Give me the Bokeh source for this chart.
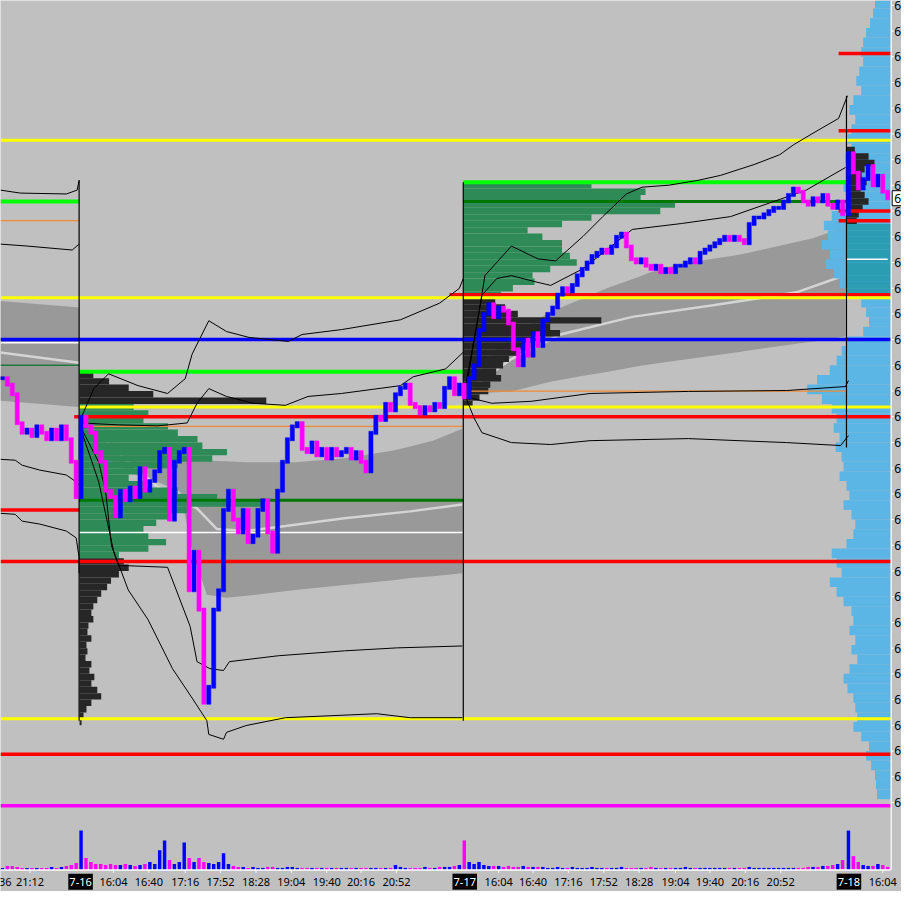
import numpy as np
from bokeh.plotting import figure
from bokeh.models import Range1d
from bokeh.embed import file_html
from bokeh.resources import INLINE
from bokeh.core.properties import value

# ---------------- data ----------------
BAR_STEP = 5  # minutes per plotted bar
session_first_bar = {"7-15": 2, "7-16": 82, "7-17": 472, "7-18": 863}

close_715 = [6301.0, 6300.5, 6299.75, 6297.5, 6296.75, 6297.0, 6296.5, 6297.25, 6296.75, 6296.25,
             6297.0, 6296.25, 6297.25, 6296.25, 6294.5, 6291.75]
close_716 = [6298.0, 6297.25, 6296.75, 6295.25, 6294.5, 6292.25, 6291.75, 6290.25, 6292.25, 6291.5,
             6292.5, 6291.75, 6294.0, 6292.25, 6293.0, 6293.75, 6295.25, 6295.5, 6290.0, 6294.5,
             6295.25, 6295.5, 6284.5, 6287.5, 6283.0, 6275.75, 6277.0, 6283.0, 6284.5, 6290.75,
             6292.25, 6290.0, 6289.0, 6290.75, 6288.25, 6288.75, 6290.75, 6291.5, 6289.0, 6287.5,
             6292.25, 6294.5, 6296.25, 6297.25, 6297.5, 6295.5, 6295.25, 6296.0, 6295.0, 6295.5,
             6294.75, 6295.5, 6295.0, 6295.25, 6295.5, 6294.75, 6295.25, 6294.5, 6293.75, 6296.75,
             6298.0, 6297.75, 6299.0, 6298.5, 6299.75, 6300.25, 6300.5, 6299.0, 6298.75, 6298.25,
             6298.75, 6298.5, 6299.0, 6298.75, 6300.25, 6301.0, 6299.75, 6300.5]
close_717 = [6299.5, 6301.0, 6302.0, 6304.75, 6306.0, 6306.75, 6305.75, 6306.5, 6306.25, 6305.25,
             6303.25, 6302.0, 6304.0, 6302.75, 6304.5, 6303.5, 6305.5, 6306.0, 6306.5, 6307.5,
             6308.0, 6307.75, 6308.25, 6309.0, 6309.5, 6310.0, 6310.5, 6310.75, 6311.0, 6310.75,
             6311.25, 6312.0, 6312.25, 6311.25, 6310.25, 6310.0, 6310.25, 6309.75, 6309.5, 6309.75,
             6309.25, 6309.5, 6309.25, 6309.75, 6309.75, 6310.0, 6310.25, 6310.0, 6310.75, 6311.0,
             6311.25, 6311.5, 6311.75, 6312.0, 6311.75, 6312.0, 6311.75, 6311.5, 6313.0, 6313.5,
             6313.5, 6313.75, 6314.0, 6314.25, 6314.25, 6314.75, 6315.25, 6315.75, 6315.5, 6314.75,
             6314.5, 6315.0, 6314.75, 6315.25, 6314.5, 6314.25, 6314.75, 6313.75]
close_718 = [6318.5, 6317.0, 6315.75, 6316.5, 6317.5, 6316.0, 6316.75, 6315.5, 6315.0]

# volume, thousand contracts per plotted bar
vol_715 = [2, 4, 4, 3, 2, 2, 2, 2, 2, 2, 3, 2, 3, 4, 5, 7]
vol_716 = [40, 12, 8, 6, 6, 5, 6, 5, 5, 6, 5, 4, 5, 6, 8, 6, 20, 30, 10, 6,
           8, 28, 12, 8, 12, 8, 7, 6, 8, 17, 6, 4, 3, 3, 2, 3, 2, 2, 3, 3,
           2, 2, 3, 3, 2, 2, 2, 2, 2, 2, 2, 2, 2, 2, 2, 2, 2, 2, 2, 2,
           2, 2, 2, 2, 5, 3, 2, 2, 2, 2, 3, 2, 2, 3, 3, 3, 4, 5]
vol_717 = [30, 8, 6, 8, 5, 4, 4, 4, 3, 4, 3, 3, 4, 3, 3, 3, 3, 2, 2, 3,
           2, 2, 3, 2, 2, 2, 3, 2, 2, 2, 2, 2, 3, 2, 2, 2, 2, 2, 3, 2,
           2, 2, 2, 2, 2, 3, 2, 2, 2, 2, 2, 2, 2, 2, 2, 2, 2, 2, 3, 2,
           2, 2, 2, 2, 2, 2, 2, 2, 2, 2, 3, 3, 3, 4, 4, 5, 6, 10]
vol_718 = [40, 14, 8, 5, 4, 4, 6, 5, 3]

# session volume profiles (0.5 pt bins from top price downward)
PROF_BIN = 0.5
prof716_top, prof716 = 6301.5, [14, 30, 50, 75, 190, 55, 70, 65, 90, 100, 120, 125, 150, 135, 100, 65, 50, 65, 100, 140,
                                185, 110, 90, 78, 65, 70, 88, 70, 40, 45, 50, 40, 32, 28, 22, 18, 14, 12, 14, 9,
                                8, 12, 7, 8, 6, 12, 10, 15, 12, 18, 22, 12, 7, 4, 2]
va716 = (6287.0, 6298.75)
prof717_top, prof717 = 6316.25, [130, 185, 180, 215, 200, 130, 100, 65, 80, 100, 100, 108, 115, 88, 70, 72, 50, 38, 32, 42,
                                 55, 140, 88, 98, 72, 62, 55, 46, 40, 33, 38, 27, 25, 16, 9]
va717 = (6307.25, 6316.25)
prof718_top, prof718 = 6319.0, [8, 22, 28, 18, 15, 20, 14, 18, 22, 16, 12, 10,
                                45, 45, 45, 45, 45, 45, 45, 45, 45, 45, 45]
va718 = (6307.5, 6313.0)

# composite profile (0.75 pt bins from top)
COMP_BIN = 0.75
comp_top, comp = 6330.5, [16, 18, 21, 25, 28, 30, 28, 32, 35, 30, 38, 42, 36, 40, 44, 40, 46, 42, 45, 48,
                          44, 50, 60, 68, 64, 70, 62, 66, 58, 52, 40, 30, 25, 22, 28, 45, 50, 55, 62, 75,
                          85, 70, 60, 55, 58, 52, 56, 50, 48, 52, 45, 42, 48, 40, 36, 38, 45, 60, 55, 50,
                          62, 55, 48, 40, 38, 42, 36, 40, 34, 42, 48, 44, 38, 36, 34, 38, 30, 22, 25, 20,
                          16, 15, 14]

# VWAP bands
band715_x, band715_hi, band715_lo = [0, 80], [6307.0, 6306.5], [6299.25, 6298.75]
vwap715_x, vwap715 = [0, 80], [6303.0, 6302.2]
band716_x = [82, 100, 130, 160, 183, 195, 210, 230, 250, 283, 300, 350, 400, 417, 440, 470]
band716_hi = [6297.37, 6296.37, 6295.61, 6295.07, 6294.77, 6294.69, 6294.58, 6294.54, 6294.46, 6294.46,
              6294.46, 6294.77, 6295.38, 6295.69, 6296.14, 6297.06]
band716_lo = [6297.21, 6295.23, 6293.70, 6292.93, 6292.17, 6287.59, 6284.15, 6283.92, 6284.07, 6284.37,
              6284.53, 6284.91, 6285.29, 6285.45, 6285.60, 6285.83]
vwap716_x = [82, 100, 127, 160, 200, 220, 250, 290, 350, 417, 470]
vwap716 = [6297.29, 6296.76, 6294.69, 6292.55, 6290.87, 6289.27, 6289.11, 6289.50, 6290.11, 6290.64, 6291.18]
band717_x = [472, 500, 520, 530, 560, 593, 617, 650, 660, 693, 750, 760, 827, 860]
band717_hi = [6299.97, 6302.87, 6304.17, 6304.78, 6306.16, 6307.22, 6307.99, 6308.90, 6309.21, 6309.90,
              6310.59, 6310.74, 6311.89, 6312.80]
band717_lo = [6299.81, 6299.89, 6299.97, 6300.16, 6300.73, 6301.19, 6301.49, 6301.95, 6302.06, 6302.41,
              6303.02, 6303.14, 6303.86, 6304.25]
vwap717_x = [472, 520, 570, 643, 727, 810, 853, 860]
vwap717 = [6299.89, 6302.49, 6304.40, 6305.77, 6306.69, 6307.68, 6308.83, 6309.36]

# deviation curves (bar, price)
curves = [
    ([0, 20, 67, 78, 80], [6315.63, 6315.40, 6315.33, 6315.63, 6316.39]),
    ([0, 27, 73, 80], [6311.43, 6311.28, 6310.97, 6311.43]),
    ([0, 15, 22, 40, 67, 77, 80], [6294.69, 6294.62, 6294.23, 6293.85, 6293.47, 6292.93, 6292.70]),
    ([0, 15, 22, 40, 67, 77, 80, 80], [6290.49, 6290.41, 6289.88, 6289.65, 6289.11, 6288.58, 6287.05, 6285.83]),
    ([82, 95, 110, 140, 170, 188, 195, 212, 230, 253, 293, 307, 347, 407, 447, 467, 471],
     [6297.90, 6300.19, 6301.34, 6300.42, 6299.81, 6300.96, 6302.87, 6305.47, 6304.63, 6304.17, 6303.86,
      6304.40, 6304.78, 6305.54, 6306.84, 6307.99, 6308.75]),
    ([82, 120, 160, 190, 200, 212, 230, 257, 290, 313, 347, 407, 420, 453, 471],
     [6297.52, 6297.37, 6297.29, 6297.52, 6299.05, 6300.19, 6299.58, 6299.05, 6298.89, 6299.58, 6299.81,
      6300.42, 6301.11, 6301.72, 6303.02]),
    ([82, 100, 107, 113, 120, 170, 193, 200, 213, 227, 233, 283, 350, 403, 470],
     [6297.14, 6294.46, 6292.17, 6287.97, 6286.44, 6286.29, 6281.70, 6278.95, 6278.41, 6278.26, 6278.95,
      6279.41, 6279.79, 6280.02, 6280.17]),
    ([82, 100, 115, 130, 150, 175, 195, 210, 212, 227, 230, 250, 290, 383, 417, 470],
     [6296.98, 6292.93, 6287.59, 6284.53, 6282.24, 6278.41, 6276.12, 6274.36, 6273.29, 6272.91, 6273.45,
      6273.98, 6274.59, 6274.90, 6274.59, 6274.59]),
    ([472, 485, 493, 520, 547, 565, 593, 613, 637, 653, 680, 710, 733, 767, 793, 807, 827, 853, 862],
     [6299.43, 6305.16, 6308.98, 6311.28, 6310.28, 6310.13, 6312.04, 6313.57, 6315.33, 6315.86, 6316.01,
      6316.39, 6316.78, 6317.62, 6318.38, 6319.15, 6320.06, 6321.21, 6322.97]),
    ([472, 490, 505, 520, 547, 560, 593, 643, 693, 743, 780, 820, 860],
     [6299.81, 6307.45, 6308.75, 6308.98, 6308.45, 6308.22, 6309.52, 6312.57, 6313.03, 6313.57, 6314.56,
      6315.63, 6317.39]),
    ([472, 480, 500, 540, 600, 700, 800, 860, 863],
     [6300.19, 6299.43, 6299.05, 6299.20, 6299.81, 6299.97, 6300.04, 6300.35, 6300.81]),
    ([472, 482, 490, 520, 560, 600, 700, 800, 855, 863],
     [6299.81, 6297.90, 6296.76, 6295.99, 6295.84, 6296.14, 6296.30, 6295.99, 6295.76, 6296.53]),
]

# session separators (bar, top price, bottom price)
sep_bar = [80, 471, 861]
sep_top = [6316.39, 6316.24, 6322.97]
sep_bot = [6274.36, 6274.36, 6295.6]

# key levels
lvl_price = [6326.25, 6320.25, 6319.5, 6316.25, 6314.75, 6314.75, 6314.0, 6313.25, 6313.25, 6310.25,
             6307.5, 6307.25, 6304.0, 6303.75, 6302.0, 6301.5, 6300.0, 6298.75, 6298.0, 6297.25,
             6291.5, 6290.75, 6289.0, 6286.75, 6274.5, 6271.75, 6267.75]
lvl_from = [853, 853, 0, 471, 0, 471, 853, 853, 0, 861, 457, 0, 0, 0, 0, 80, 471, 80, 75, 80,
            80, 0, 80, 0, 0, 0, 0]
lvl_to = [906, 906, 906, 861, 80, 861, 906, 906, 80, 903, 906, 906, 906, 80, 80, 471, 861, 906, 906, 471,
          471, 80, 471, 906, 906, 906, 906]
lvl_kind = ["red", "red", "yellow", "lime", "lime", "poc", "red", "red", "orange", "white",
            "red", "yellow", "blue", "white", "pocthin", "lime", "orange", "yellow", "red", "orange",
            "poc", "red", "white", "red", "yellow", "red", "magenta"]

# axes
price_ticks = [6330, 6328, 6326, 6324, 6322, 6320, 6318, 6316, 6314, 6312, 6310, 6308, 6306, 6304, 6302, 6300,
               6298, 6296, 6294, 6292, 6290, 6288, 6286, 6284, 6282, 6280, 6278, 6276, 6274, 6272, 6270, 6268]
time_tick_pos = [-3, 30, 115, 151, 188, 224, 260, 296, 332, 367, 403, 507, 542, 578, 614, 650, 687, 722, 758,
                 794, 898]
time_tick_lab = ["20:36", "21:12", "16:04", "16:40", "17:16", "17:52", "18:28", "19:04", "19:40", "20:16",
                 "20:52", "16:04", "16:40", "17:16", "17:52", "18:28", "19:04", "19:40", "20:16", "20:52",
                 "16:04"]
date_pos = [81.5, 472.5, 863.5]
date_lab = ["7-16", "7-17", "7-18"]
last_price = 6315.0

# ---------------- layout / styles ----------------
BG = "#c0c0c0"
UP, DOWN = "#0000ff", "#ff00ff"
LEVEL_STYLE = {"red": ("#ff0000", 3.5), "yellow": ("#ffff00", 3), "lime": ("#00ff00", 4),
               "poc": ("#007800", 3), "pocthin": ("#1f7a3a", 1.5), "orange": ("#ef8b35", 1.2),
               "white": ("#ffffff", 1.5), "blue": ("#0000ff", 3.5), "magenta": ("#ff00ff", 3.5)}
FONT = "Noto Sans"
X_END = 906          # last bar column of the price pane
X_MAX = 917          # includes the price-label strip
P_TOP, P_BASE, P_BOTTOM = 6330.38, 6262.77, 6261.07   # pane top, time-axis line, bottom of label strip
LABEL_STRIP = 22     # height (px) of time-label strip in the "axis" range

p = figure(width=901, height=891, x_range=Range1d(0, X_MAX), y_range=Range1d(P_BOTTOM, P_TOP),
           x_axis_location=None, y_axis_location=None, output_backend="svg", toolbar_location=None,
           background_fill_color=BG, border_fill_color=BG,
           min_border_left=0, min_border_top=0, min_border_right=0, min_border_bottom=0)
p.outline_line_color = None
p.grid.visible = False
# "axis" range: 0 at the time-axis line, units ~ pixels, for volume and labels
p.extra_y_ranges = {"ax": Range1d(-LABEL_STRIP, 885)}

# VWAP bands
for bx_, hi, lo in [(band715_x, band715_hi, band715_lo), (band716_x, band716_hi, band716_lo),
                    (band717_x, band717_hi, band717_lo)]:
    p.varea(x=bx_, y1=lo, y2=hi, fill_color="#999999")
for vx, vy in [(vwap715_x, vwap715), (vwap716_x, vwap716), (vwap717_x, vwap717)]:
    p.line(vx, vy, line_color="#d4d4d4", line_width=2.5)

# composite profile (anchored right)
comp_c = comp_top - COMP_BIN * (np.arange(len(comp)) + 0.5)
p.hbar(y=comp_c, left=[X_END - v for v in comp], right=X_END, height=COMP_BIN,
       fill_color="#5bb5e5", line_color=None)

# session profiles
def profile(start, top, vols, va, va_color):
    c = top - PROF_BIN * (np.arange(len(vols)) + 0.5)
    cols = [va_color if va[0] <= yc <= va[1] else "#262626" for yc in c]
    p.hbar(y=c, left=start, right=[start + v for v in vols], height=PROF_BIN,
           fill_color=cols, line_color=None)

profile(80.5, prof716_top, prof716, va716, "#2e8b57")
profile(471.5, prof717_top, prof717, va717, "#2e8b57")
profile(861.5, prof718_top, prof718, va718, "#2a9db3")

# levels
lc = [LEVEL_STYLE[k][0] for k in lvl_kind]
lw = [LEVEL_STYLE[k][1] for k in lvl_kind]
p.segment(x0=lvl_from, y0=lvl_price, x1=lvl_to, y1=lvl_price, line_color=lc, line_width=lw)

# separators & curves
p.segment(x0=sep_bar, y0=sep_top, x1=sep_bar, y1=sep_bot, line_color="black", line_width=1.2)
for cx, cy in curves:
    p.line(cx, cy, line_color="black", line_width=1)

# candles + volume
bx, btop, bbot, bcol, bvol = [], [], [], [], []
prev = None
for name, closes, vols in [("7-15", close_715, vol_715), ("7-16", close_716, vol_716),
                           ("7-17", close_717, vol_717), ("7-18", close_718, vol_718)]:
    for i, (c, v) in enumerate(zip(closes, vols)):
        o = prev if prev is not None else c
        bx.append(session_first_bar[name] + BAR_STEP * i)
        hi, lo = max(o, c), min(o, c)
        btop.append(hi + 0.12)
        bbot.append(lo - 0.12)
        bcol.append(UP if c >= o else DOWN)
        bvol.append(v)
        prev = c
p.vbar(x=bx, top=btop, bottom=bbot, width=4.2, fill_color=bcol, line_color=bcol, line_width=0.5)
p.vbar(x=bx, top=bvol, bottom=0, width=3.5, fill_color=bcol, line_color=None, y_range_name="ax")

# ---- time axis (drawn in the pane) ----
p.segment(x0=[0], y0=[0], x1=[X_END], y1=[0], line_color="white", line_width=1.5, y_range_name="ax")
p.segment(x0=time_tick_pos, y0=[0] * len(time_tick_pos), x1=time_tick_pos, y1=[-3] * len(time_tick_pos),
          line_color="white", line_width=1, y_range_name="ax")
p.text(x=time_tick_pos, y=[-12] * len(time_tick_pos), text=time_tick_lab, y_range_name="ax",
       text_align="center", text_baseline="middle", text_font=value(FONT), text_font_size="11px",
       text_color="black")
p.rect(x=date_pos, y=[-12] * len(date_pos), width=25, height=16, height_units="screen",
       fill_color="black", line_color=None, y_range_name="ax")
p.text(x=date_pos, y=[-12] * len(date_pos), text=date_lab, y_range_name="ax",
       text_align="center", text_baseline="middle", text_font=value(FONT), text_font_size="11px",
       text_color="white")

# ---- price axis (drawn in the pane) ----
p.segment(x0=[X_END + 0.5], y0=[P_BASE], x1=[X_END + 0.5], y1=[P_TOP], line_color="white", line_width=1.2)
p.segment(x0=[X_END + 0.5] * len(price_ticks), y0=price_ticks, x1=[X_END + 3.5] * len(price_ticks),
          y1=price_ticks, line_color="white", line_width=1)
p.text(x=[X_END + 3.5] * len(price_ticks), y=price_ticks, text=["6"] * len(price_ticks),
       text_align="left", text_baseline="middle", text_font=value(FONT), text_font_size="12px",
       text_color="black")
p.rect(x=[X_END + 6.5], y=[last_price], width=10, height=15, height_units="screen",
       fill_color="white", line_color="black", line_width=1)
p.text(x=[X_END + 3.5], y=[last_price], text=["6"], text_align="left", text_baseline="middle",
       text_font=value(FONT), text_font_size="12px", text_color="black")

open("out.html", "w").write(file_html(p, INLINE))
